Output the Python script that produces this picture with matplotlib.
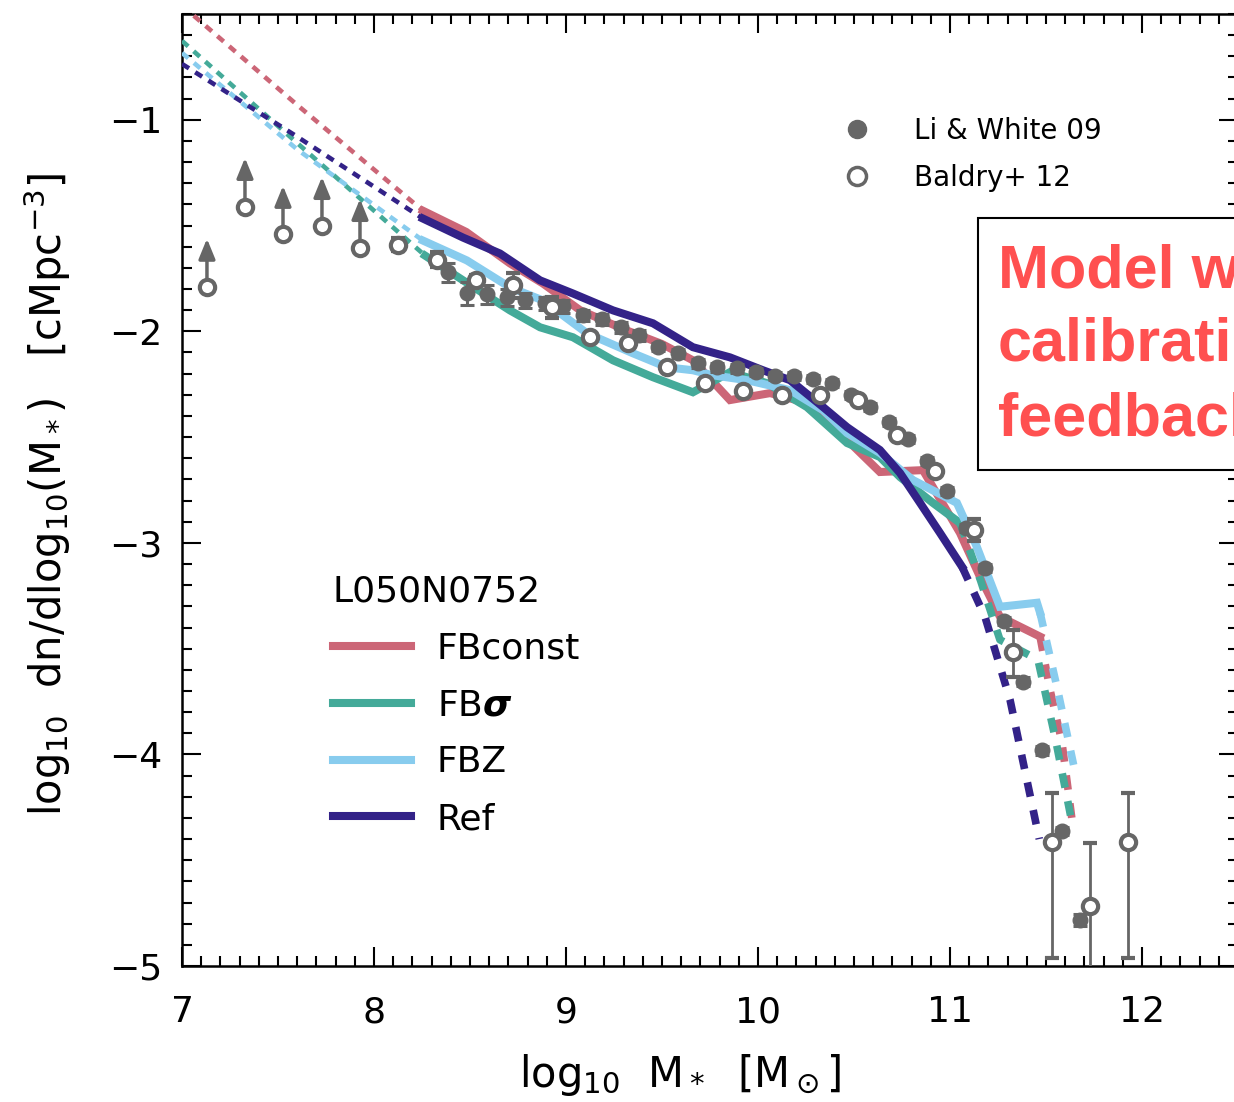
import matplotlib
matplotlib.use("Agg")
import matplotlib.pyplot as plt
from matplotlib.lines import Line2D
from matplotlib.patches import Rectangle
from matplotlib.ticker import MultipleLocator

# ---------------- data ----------------
# models: solid part
fbconst_x = [8.255, 8.48, 8.708, 8.88, 9.073, 9.30, 9.50, 9.661, 9.854, 10.063, 10.22, 10.427, 10.635, 10.859, 11.052, 11.156, 11.26, 11.469]
fbconst_y = [-1.43, -1.53, -1.679, -1.774, -1.90, -1.99, -2.06, -2.137, -2.325, -2.292, -2.33, -2.481, -2.665, -2.656, -2.953, -3.16, -3.349, -3.443]
fbsig_x = [8.266, 8.464, 8.708, 8.865, 9.036, 9.245, 9.453, 9.661, 9.854, 10.047, 10.255, 10.464, 10.635, 10.74, 10.911, 11.052]
fbsig_y = [-1.642, -1.759, -1.901, -1.981, -2.028, -2.137, -2.217, -2.288, -2.193, -2.245, -2.358, -2.528, -2.594, -2.689, -2.811, -2.906]
fbz_x = [8.255, 8.484, 8.708, 8.88, 9.109, 9.349, 9.526, 9.661, 9.766, 9.943, 10.167, 10.339, 10.464, 10.635, 10.807, 11.036, 11.14, 11.26, 11.453, 11.469]
fbz_y = [-1.571, -1.665, -1.792, -1.854, -2.009, -2.104, -2.17, -2.184, -2.208, -2.231, -2.278, -2.373, -2.481, -2.575, -2.703, -2.811, -3.019, -3.302, -3.283, -3.33]
ref_x = [8.255, 8.464, 8.656, 8.865, 9.036, 9.245, 9.453, 9.661, 9.854, 10.026, 10.167, 10.339, 10.464, 10.635, 10.74, 10.844, 10.948, 11.063]
ref_y = [-1.467, -1.557, -1.632, -1.759, -1.821, -1.901, -1.962, -2.075, -2.123, -2.184, -2.231, -2.358, -2.453, -2.561, -2.67, -2.811, -2.953, -3.113]

# models: low-mass (dotted) extrapolation
fbconst_lo_x = [7.0, 7.6, 8.255]
fbconst_lo_y = [-0.46, -0.93, -1.43]
fbsig_lo_x = [7.0, 7.6, 8.266]
fbsig_lo_y = [-0.627, -1.11, -1.642]
fbz_lo_x = [7.0, 7.6, 8.255]
fbz_lo_y = [-0.684, -1.14, -1.571]
ref_lo_x = [7.0, 7.6, 8.255]
ref_lo_y = [-0.736, -1.08, -1.467]

# models: high-mass (dashed) part
fbconst_hi_x = [11.469, 11.52, 11.583, 11.64]
fbconst_hi_y = [-3.443, -3.69, -3.943, -4.34]
fbsig_hi_x = [11.052, 11.16, 11.26, 11.458, 11.55, 11.64]
fbsig_hi_y = [-2.906, -3.18, -3.458, -3.552, -3.93, -4.344]
fbz_hi_x = [11.469, 11.5625, 11.651]
fbz_hi_y = [-3.33, -3.703, -4.08]
ref_hi_x = [11.063, 11.182, 11.3125, 11.465]
ref_hi_y = [-3.113, -3.349, -3.741, -4.40]

# Li & White 09 (filled)
lw09_x = [8.385, 8.484, 8.589, 8.693, 8.786, 8.891, 8.984, 9.089, 9.188, 9.286, 9.380, 9.479, 9.583, 9.688,
          9.786, 9.891, 9.99, 10.089, 10.188, 10.286, 10.385, 10.484, 10.583, 10.682, 10.781, 10.880, 10.984,
          11.083, 11.182, 11.281, 11.38, 11.479, 11.583, 11.677]
lw09_y = [-1.72, -1.821, -1.825, -1.838, -1.854, -1.868, -1.882, -1.925, -1.943, -1.981, -2.019, -2.075, -2.104, -2.151,
          -2.170, -2.175, -2.193, -2.212, -2.212, -2.226, -2.245, -2.302, -2.358, -2.429, -2.509, -2.613, -2.755,
          -2.929, -3.118, -3.368, -3.656, -3.981, -4.363, -4.783]
lw09_err = [0.045, 0.055, 0.045, 0.04, 0.035, 0.03, 0.03, 0.025, 0.025, 0.025, 0.025, 0.02, 0.02, 0.02,
            0.02, 0.02, 0.02, 0.02, 0.02, 0.02, 0.02, 0.02, 0.02, 0.02, 0.02, 0.02, 0.02,
            0.02, 0.02, 0.02, 0.02, 0.02, 0.02, 0.03]

# Baldry+ 12 (open): lower limits
b12_lim_x = [7.13, 7.328, 7.526, 7.729, 7.927]
b12_lim_y = [-1.792, -1.410, -1.542, -1.500, -1.604]
# Baldry+ 12 (open): measurements
b12_x = [8.125, 8.328, 8.531, 8.724, 8.927, 9.125, 9.323, 9.526, 9.724, 9.922, 10.125, 10.323, 10.521, 10.724,
         10.922, 11.125, 11.328, 11.531, 11.729, 11.927]
b12_y = [-1.590, -1.665, -1.755, -1.783, -1.887, -2.028, -2.057, -2.170, -2.245, -2.283, -2.302, -2.302, -2.325, -2.491,
         -2.660, -2.939, -3.514, -4.415, -4.717, -4.415]
b12_err_lo = [0.03, 0.03, 0.02, 0.06, 0.05, 0.01, 0.01, 0.01, 0.01, 0.01, 0.01, 0.01, 0.01, 0.01,
              0.01, 0.05, 0.12, 0.545, 0.40, 0.545]
b12_err_hi = [0.03, 0.04, 0.02, 0.06, 0.05, 0.01, 0.01, 0.01, 0.01, 0.01, 0.01, 0.01, 0.01, 0.01,
              0.01, 0.05, 0.10, 0.235, 0.30, 0.235]
lim_arrow = 0.23

c_red, c_grn, c_cyn, c_nav = '#CC6677', '#44AA99', '#88CCEE', '#332288'
gray = '#666666'

# ---------------- figure ----------------
W, H = 1234, 1102
fig = plt.figure(figsize=(W / 100, H / 100), dpi=100)
plt.rcParams['font.family'] = ['DejaVu Sans']
ax = fig.add_axes([182 / W, 1 - 966 / H, 1056 / W, 952 / H])
ax.set_xlim(7, 12.5)
ax.set_ylim(-5, -0.5)

def fx(px):
    return px / W

def fy(py):
    return 1 - py / H

solid_lw = 5.8
for xs, ys, c in [(fbconst_x, fbconst_y, c_red), (fbsig_x, fbsig_y, c_grn), (fbz_x, fbz_y, c_cyn), (ref_x, ref_y, c_nav)]:
    ax.plot(xs, ys, color=c, lw=solid_lw, solid_joinstyle='miter', zorder=3)
for xs, ys, c in [(fbconst_lo_x, fbconst_lo_y, c_red), (fbsig_lo_x, fbsig_lo_y, c_grn), (fbz_lo_x, fbz_lo_y, c_cyn), (ref_lo_x, ref_lo_y, c_nav)]:
    ax.plot(xs, ys, color=c, lw=3.3, dashes=(1.8, 1.6), dash_capstyle='butt', zorder=3)
for xs, ys, c in [(fbconst_hi_x, fbconst_hi_y, c_red), (fbsig_hi_x, fbsig_hi_y, c_grn), (fbz_hi_x, fbz_hi_y, c_cyn), (ref_hi_x, ref_hi_y, c_nav)]:
    ax.plot(xs, ys, color=c, lw=5.5, dashes=(1.9, 1.8), dash_capstyle='butt', zorder=3)

# Li & White 09
ax.errorbar(lw09_x, lw09_y, yerr=lw09_err, fmt='o', ms=10.5, mfc=gray, mec=gray, ecolor=gray,
            elinewidth=2.2, capsize=5, capthick=2.2, zorder=5)
# Baldry+ 12 lower limits
for x, y in zip(b12_lim_x, b12_lim_y):
    ax.annotate('', xy=(x, y + lim_arrow), xytext=(x, y),
                arrowprops=dict(arrowstyle='-|>,head_length=1.1,head_width=0.45', color=gray, lw=2.5,
                                shrinkA=0, shrinkB=0, mutation_scale=11), zorder=5)
ax.plot(b12_lim_x, b12_lim_y, 'o', ms=11, mfc='white', mec=gray, mew=3, zorder=6)
# Baldry+ 12 measurements
ax.errorbar(b12_x, b12_y, yerr=[b12_err_lo, b12_err_hi], fmt='o', ms=11, mfc='white', mec=gray, mew=3,
            ecolor=gray, elinewidth=2.0, capsize=5, capthick=2.0, zorder=6)

# axes styling
for s in ax.spines.values():
    s.set_linewidth(1.8)
ax.xaxis.set_major_locator(MultipleLocator(1))
ax.xaxis.set_minor_locator(MultipleLocator(0.1))
ax.yaxis.set_major_locator(MultipleLocator(1))
ax.yaxis.set_minor_locator(MultipleLocator(0.1))
ax.tick_params(which='both', direction='in', top=True, right=True, width=1.5)
ax.tick_params(which='major', length=14)
ax.tick_params(which='minor', length=7)
ax.tick_params(axis='x', which='major', labelsize=26, pad=21)
ax.tick_params(axis='y', which='major', labelsize=26, pad=14)

fig.text(fx(680), fy(1075), r'log$_{10}$  M$_*$  [M$_\odot$]', fontsize=30, ha='center', va='center')
fig.text(fx(47), fy(495), r'log$_{10}$  dn/dlog$_{10}$(M$_*$)   [cMpc$^{-3}$]', fontsize=30,
         ha='center', va='center', rotation=90)

# model legend
mh = [Line2D([], [], color=c, lw=5.8) for c in (c_red, c_grn, c_cyn, c_nav)]
leg1 = ax.legend(mh, ['FBconst', r'FB$\boldsymbol{\sigma}$', 'FBZ', 'Ref'], title='L050N0752',
                 loc='upper left', bbox_to_anchor=(fx(333), fy(575)), bbox_transform=fig.transFigure,
                 frameon=False, fontsize=26, title_fontsize=26, handlelength=2.15, handletextpad=0.72,
                 labelspacing=0.63, borderpad=0, borderaxespad=0)
leg1._legend_box.align = 'left'
ax.add_artist(leg1)

# data legend
dh = [Line2D([], [], ls='none', marker='o', ms=13, mfc=gray, mec=gray),
      Line2D([], [], ls='none', marker='o', ms=13, mfc='white', mec=gray, mew=2.5)]
ax.legend(dh, ['Li & White 09', 'Baldry+ 12'], loc='upper left',
          bbox_to_anchor=(fx(836), fy(117)), bbox_transform=fig.transFigure,
          frameon=False, fontsize=20, handlelength=1.5, handletextpad=1.3, labelspacing=0.68,
          borderpad=0, borderaxespad=0)

# annotation box (cut at figure edge, as in the original)
box = Rectangle((fx(978), fy(470)), fx(300), fy(218) - fy(470), transform=fig.transFigure,
                facecolor='white', edgecolor='black', lw=1.5, zorder=10)
fig.add_artist(box)
fig.text(fx(998), fy(346), 'Model with\ncalibrating\nfeedback', color='#FF5050', fontsize=44,
         fontweight='bold', family=['Liberation Sans', 'DejaVu Sans'], ha='left', va='center',
         linespacing=1.38, zorder=11)

fig.savefig('out.png', dpi=100)
